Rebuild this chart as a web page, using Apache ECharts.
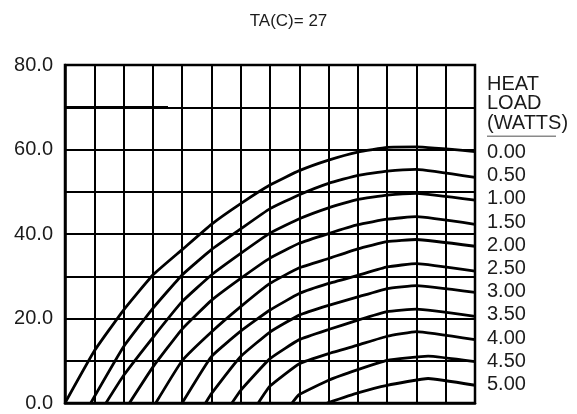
<!DOCTYPE html>
<html>
<head>
<meta charset="utf-8">
<script src="https://cdn.jsdelivr.net/npm/echarts@6/dist/echarts.min.js"></script>
<style>
  html, body { margin: 0; padding: 0; background: #fff; }
  #chart { width: 577px; height: 414px; }
</style>
</head>
<body>
<div id="chart"></div>
<script>
// Temperature difference vs. drive (grid units) for each heat load, ambient 27 C
const titleText = 'TA(C)= 27';
const legendHeader = ['HEAT', 'LOAD', '(WATTS)'];
const loadLabels = ['0.00', '0.50', '1.00', '1.50', '2.00', '2.50', '3.00', '3.50', '4.00', '4.50', '5.00'];
const yTickLabels = ['0.0', '20.0', '40.0', '60.0', '80.0'];

// [x, deltaT] pairs for each load
const load000 = [[0,0],[1,12.3],[2,22],[3,30.3],[4,36.3],[5,42.3],[6,47.2],[7,51.6],[8,55],[9,57.5],[10,59.4],[11,60.5],[12,60.6],[14,59.5]];
const load050 = [[0.88,0],[2,13.3],[3,22.4],[4,30.3],[5,36.3],[6,41.2],[7,46],[8,49.3],[9,52],[10,53.9],[11,54.9],[12,55.3],[14,53.4]];
const load100 = [[1.4,0],[2,6.5],[3,15.5],[4,24],[5,30.3],[6,35.4],[7,40.2],[8,43.6],[9,46.2],[10,48.2],[11,49.2],[12,49.6],[14,48]];
const load150 = [[2.2,0],[3,8.5],[4,17.5],[5,24.3],[6,29.5],[7,34.3],[8,37.8],[9,40.1],[10,42.2],[11,43.5],[12,44.1],[14,42.3]];
const load200 = [[3.1,0],[4,10],[5,16.8],[6,22.8],[7,28.3],[8,32],[9,34.2],[10,36.5],[11,38.2],[12,38.7],[14,37.1]];
const load250 = [[4.0,0],[5,11],[6,17],[7,22],[8,25.9],[9,28.3],[10,30.2],[11,32.2],[12,33],[14,31.2]];
const load300 = [[4.8,0],[5,2.2],[6,11],[7,16.8],[8,20.8],[9,23.1],[10,25.1],[11,27.1],[12,27.8],[14,26.2]];
const load350 = [[5.7,0],[6,3],[7,10.5],[8,15],[9,17.4],[10,19.6],[11,21.6],[12,22.2],[14,20.5]];
const load400 = [[6.6,0],[7,4],[8,9.3],[9,11.7],[10,13.7],[11,15.8],[12,16.9],[14,15]];
const load450 = [[7.75,0],[8,2],[9,5.4],[10,7.9],[11,10.1],[12.4,11.1],[14,9.8]];
const load500 = [[8.95,0],[10,2.4],[11,4.2],[12.4,5.8],[14,4.2]];

const curves = [load000, load050, load100, load150, load200, load250, load300, load350, load400, load450, load500];

const FONT = 'Liberation Sans, Arial, sans-serif';
const INK = '#1b1b1b';

const chart = echarts.init(document.getElementById('chart'), null, { renderer: 'canvas' });

const series = curves.map((pts, i) => ({
  name: loadLabels[i],
  type: 'line',
  data: pts,
  showSymbol: false,
  smooth: 0.12,
  silent: true,
  lineStyle: { color: '#000', width: 2.8 },
  z: 5
}));

// right-hand list of load values
const graphics = [];
legendHeader.forEach((t, i) => {
  graphics.push({
    type: 'text', left: 487, top: 74 + i * 19.5,
    style: { text: t, font: '20px ' + FONT, fill: INK }
  });
});
graphics.push({
  type: 'rect', shape: { x: 487, y: 135.5, width: 69, height: 1.5 },
  style: { fill: '#8a8a8a' }
});
loadLabels.forEach((t, i) => {
  graphics.push({
    type: 'text', left: 487, top: 142.5 + i * 23.2,
    style: { text: t, font: '20px ' + FONT, fill: INK }
  });
});

// slightly heavier rule at the 70 level on the left part of the grid
graphics.push({
  type: 'rect', shape: { x: 65, y: 105.9, width: 103, height: 2.6 },
  style: { fill: '#000' }, z: 10
});

chart.setOption({
  animation: false,
  backgroundColor: '#fff',
  title: {
    text: titleText, left: 'center', top: 8,
    textStyle: { fontFamily: FONT, fontSize: 17, fontWeight: 'normal', color: INK }
  },
  grid: { left: 65, top: 65, width: 410, height: 338, show: true, borderColor: '#000', borderWidth: 2.5, backgroundColor: 'transparent' },
  xAxis: {
    type: 'value', min: 0, max: 14, interval: 1,
    axisLine: { show: true, lineStyle: { color: '#000', width: 2.5 } },
    axisTick: { show: false },
    axisLabel: { show: false },
    splitLine: { show: true, lineStyle: { color: '#000', width: 2 } }
  },
  yAxis: {
    type: 'value', min: 0, max: 80, interval: 10,
    axisLine: { show: true, lineStyle: { color: '#000', width: 2.5 } },
    axisTick: { show: false },
    axisLabel: {
      margin: 12, fontFamily: FONT, fontSize: 20, color: INK,
      formatter: v => (v % 20 === 0 ? yTickLabels[v / 20] : '')
    },
    splitLine: { show: true, lineStyle: { color: '#000', width: 2 } }
  },
  series: series,
  graphic: graphics
});
</script>
</body>
</html>
